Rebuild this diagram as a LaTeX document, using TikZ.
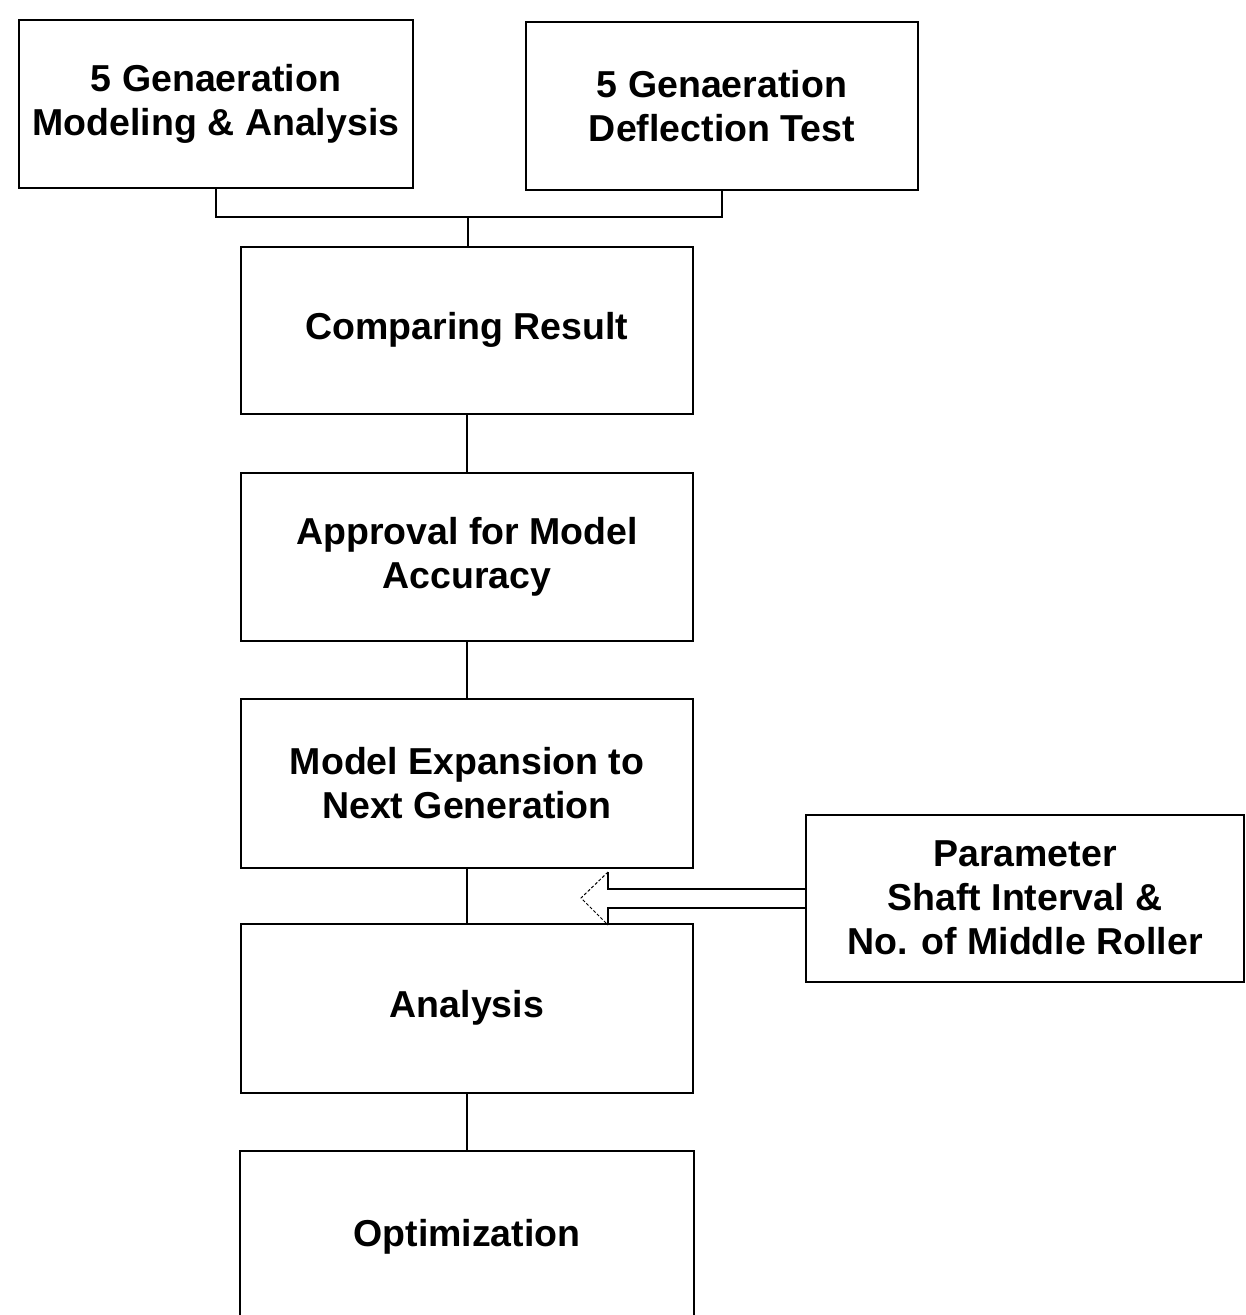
\documentclass[tikz,border=0pt]{standalone}
\usepackage{fontspec}
\setmainfont{Liberation Sans}
\begin{document}
\begin{tikzpicture}[x=1pt,y=-1pt,
  box/.style={draw, line width=2pt, inner sep=0pt, align=center,
    font=\bfseries\fontsize{37.5}{44}\selectfont},
  wire/.style={line width=2pt}]
\useasboundingbox (0,0) rectangle (1246,1315);
\node[box, minimum width=394pt, minimum height=168pt] (a) at (216,104) {5 Genaeration\\Modeling \& Analysis};
\node[box, minimum width=392pt, minimum height=168pt] (b) at (722,106) {5 Genaeration\\Deflection Test};
\node[box, minimum width=452pt, minimum height=167pt] (cmp) at (467,330) {Comparing Result};
\node[box, minimum width=452pt, minimum height=168pt] (apr) at (467,557) {Approval for Model\\Accuracy};
\node[box, minimum width=452pt, minimum height=169pt] (exp) at (467,783) {Model Expansion to\\Next Generation};
\node[box, minimum width=452pt, minimum height=169pt] (ana) at (467,1008) {Analysis};
\node[box, draw=none, minimum width=452pt, minimum height=170pt] (opt) at (467,1237) {Optimization};
\draw[wire] (opt.south west) -- (opt.north west) -- (opt.north east) -- (opt.south east);
\node[box, minimum width=438pt, minimum height=167pt] (par) at (1025,898) {Parameter\\Shaft Interval \&\\No. of Middle Roller};
% top joint
\coordinate (j) at (468,217);
\draw[wire] (a.south) |- (j) -| (b.south);
\draw[wire] (j) -- (cmp.north -| j);
\draw[wire] (cmp.south) -- (apr.north);
\draw[wire] (apr.south) -- (exp.north);
\draw[wire] (exp.south) -- (ana.north);
\draw[wire] (ana.south) -- (opt.north);
% hollow arrow
\coordinate (s1) at (par.west |- 0,889);
\coordinate (s2) at (par.west |- 0,908);
\coordinate (h1) at (608,889);
\coordinate (h2) at (608,908);
\coordinate (ht) at (608,872);
\coordinate (hb) at (608,925);
\coordinate (tip) at (581,898);
\draw[wire] (s1) -- (h1) -- (ht);
\draw[wire] (s2) -- (h2) -- (hb);
\draw[line width=1pt, densely dashed] (ht) -- (tip) -- (hb);
\end{tikzpicture}
\end{document}
